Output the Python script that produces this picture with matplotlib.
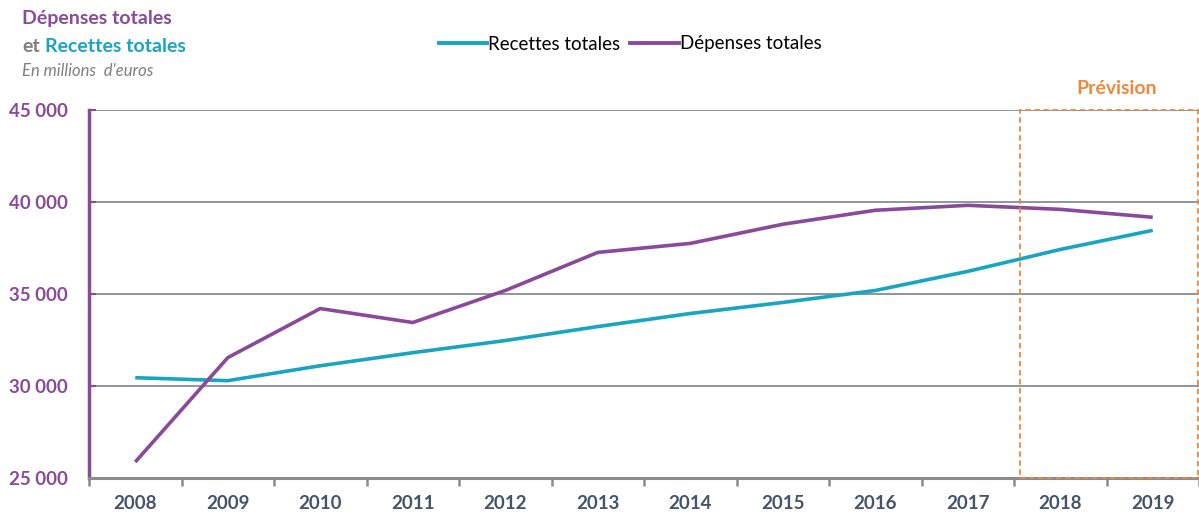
import matplotlib.pyplot as plt
from matplotlib.patches import Rectangle
from matplotlib.lines import Line2D

years = ["2008", "2009", "2010", "2011", "2012", "2013", "2014",
         "2015", "2016", "2017", "2018", "2019"]
recettes = [30450, 30290, 31100, 31810, 32470, 33230, 33940,
            34540, 35190, 36230, 37420, 38460]
depenses = [25870, 31540, 34210, 33450, 35190, 37260, 37750,
            38790, 39550, 39820, 39600, 39170]
y_ticks = [25000, 30000, 35000, 40000, 45000]
y_labels = ["25 000", "30 000", "35 000", "40 000", "45 000"]

PURPLE = "#8a4a9a"
TEAL = "#17a5c0"
ORANGE = "#f0883a"
GRID = "#858c96"
XLAB = "#44546a"

plt.rcParams["font.family"] = ["Lato", "DejaVu Sans"]

fig = plt.figure(figsize=(11.99, 5.13), dpi=100)
ax = fig.add_axes([89 / 1199, 35 / 513, 1110 / 1199, 368 / 513])

x = list(range(len(years)))
ax.plot(x, recettes, color=TEAL, lw=2.6, solid_capstyle="butt", zorder=3)
ax.plot(x, depenses, color=PURPLE, lw=2.6, solid_capstyle="butt", zorder=3)

ax.set_xlim(-0.5, len(years) - 0.5)
ax.set_ylim(25000, 45000)

ax.set_yticks(y_ticks)
ax.set_yticklabels(y_labels)
ax.set_xticks(x)
ax.set_xticklabels(years)
ax.set_xticks([i - 0.5 for i in range(len(years) + 1)], minor=True)

ax.tick_params(axis="y", direction="in", length=5, width=1.5, color=PURPLE,
               labelcolor=PURPLE, labelsize=13.5, pad=15)
ax.tick_params(axis="x", which="major", length=0, labelcolor=XLAB,
               labelsize=13.5, pad=12)
ax.tick_params(axis="x", which="minor", direction="out", length=6, width=1.8,
               color="#8c8c8c")
for lbl in ax.get_yticklabels() + ax.get_xticklabels():
    lbl.set_fontweight("bold")

ax.grid(axis="y", color=GRID, lw=1.3)
ax.set_axisbelow(True)
for side in ("top", "right"):
    ax.spines[side].set_visible(False)
ax.spines["left"].set_color(PURPLE)
ax.spines["left"].set_linewidth(2.5)
ax.spines["bottom"].set_color("#8c8c8c")
ax.spines["bottom"].set_linewidth(2.2)

# forecast box
ax.add_patch(Rectangle((9.57, 25000), len(years) - 0.5 - 9.57 - 0.01, 20000,
                       fill=False, edgecolor=ORANGE, lw=1.3, ls=(0, (3, 2)),
                       zorder=4, clip_on=False))
ax.text(10.61, 45700, "Prévision", color=ORANGE, fontsize=14,
        fontweight="bold", ha="center", va="bottom")

# title block
fig.text(22 / 1199, 1 - 19 / 513, "Dépenses totales", color=PURPLE,
         fontsize=14, fontweight="bold", va="center")
fig.text(22 / 1199, 1 - 46 / 513, "et", color="#7f7f7f",
         fontsize=14, fontweight="bold", va="center")
fig.text(45 / 1199, 1 - 46 / 513, "Recettes totales", color=TEAL,
         fontsize=14, fontweight="bold", va="center")
fig.text(22 / 1199, 1 - 71 / 513, "En millions  d'euros", color="#7f7f7f",
         fontsize=12, style="italic", va="center")

handles = [Line2D([], [], color=TEAL, lw=2.8),
           Line2D([], [], color=PURPLE, lw=2.8)]
fig.legend(handles, ["Recettes totales", "Dépenses totales"],
           loc="center", bbox_to_anchor=(630 / 1199, 1 - 44 / 513), ncol=2,
           frameon=False, fontsize=13.5, handlelength=2.6, handletextpad=0.05,
           columnspacing=0.5)

fig.savefig("out.png", dpi=100)
